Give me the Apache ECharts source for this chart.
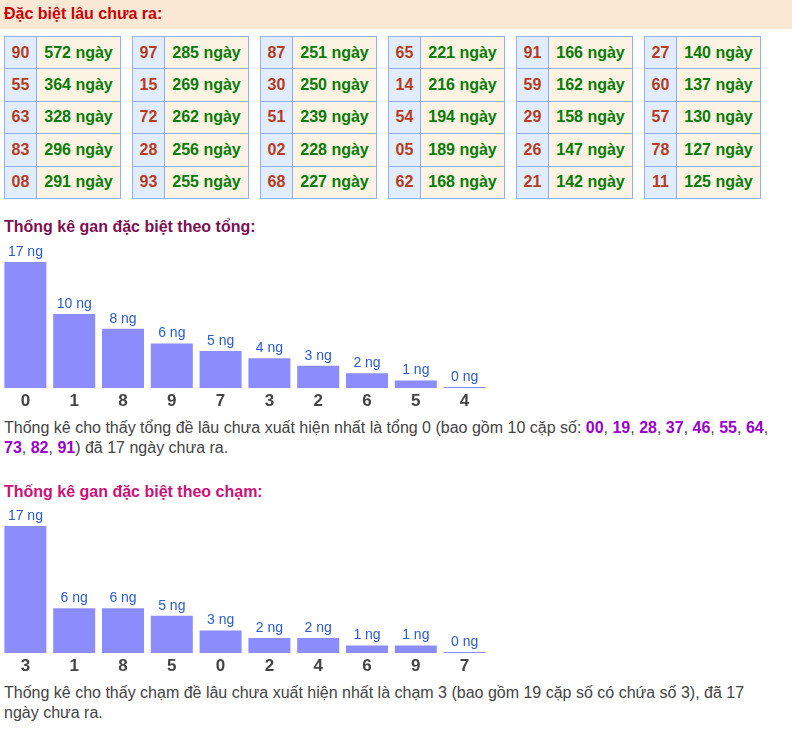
<!DOCTYPE html>
<html><head><meta charset="utf-8">
<script src="https://cdn.jsdelivr.net/npm/echarts@6/dist/echarts.min.js"></script>
<style>
body{margin:0;background:#fff;font-family:"Liberation Sans",Arial,sans-serif;width:792px;height:729px;overflow:hidden;position:relative}
.hdr{position:absolute;left:0;top:0;width:792px;height:29px;background:#fbe9d6;}
.hdr span{position:absolute;left:4px;top:5px;font-weight:bold;font-size:16px;color:#cc0000}
table.g{position:absolute;top:36px;border-collapse:collapse;table-layout:fixed}
table.g td{border:1px solid #8fb0f3;height:31.4px;font-weight:bold;font-size:16px;text-align:center;padding:0}
td.n{background:#e1edfd;color:#b83c1c;width:31px}
td.d{background:#fdf3e2;color:#077c07;width:83px}
.ttl{position:absolute;left:4px;font-weight:bold;font-size:16px;line-height:20px}
.par{position:absolute;left:4px;width:786px;font-size:16px;line-height:19.5px;color:#444}
.par b{color:#9900cc}
.ch{position:absolute;left:0;width:500px;height:175px}
</style></head><body>
<div class="hdr"><span>Đặc biệt lâu chưa ra:</span></div>
<div id="tables"></div>
<div class="ttl" style="top:217px;color:#7d0f50">Thống kê gan đặc biệt theo tổng:</div>
<div id="c1" class="ch" style="top:240px"></div>
<div class="par" id="p1" style="top:418px"></div>
<div class="ttl" style="top:482px;color:#cc1177">Thống kê gan đặc biệt theo chạm:</div>
<div id="c2" class="ch" style="top:504px"></div>
<div class="par" id="p2" style="top:683px;width:760px"></div>
<script>
// Long-absent numbers (table columns, top to bottom)
const ganNumbers = [
  ["90","55","63","83","08"],
  ["97","15","72","28","93"],
  ["87","30","51","02","68"],
  ["65","14","54","05","62"],
  ["91","59","29","26","21"],
  ["27","60","57","78","11"]
];
const ganDays = [
  [572,364,328,296,291],
  [285,269,262,256,255],
  [251,250,239,228,227],
  [221,216,194,189,168],
  [166,162,158,147,142],
  [140,137,130,127,125]
];
// Chart 1: by sum (tổng)
const tongCategories = ["0","1","8","9","7","3","2","6","5","4"];
const tongValues = [17,10,8,6,5,4,3,2,1,0];
// Chart 2: by digit (chạm)
const chamCategories = ["3","1","8","5","0","2","4","6","9","7"];
const chamValues = [17,6,6,5,3,2,2,1,1,0];
const tongPairs = ["00","19","28","37","46","55","64","73","82","91"];

// tables
const tw = document.getElementById('tables');
ganNumbers.forEach((col, i) => {
  const t = document.createElement('table');
  t.className = 'g';
  t.style.left = (4 + i * 128) + 'px';
  let h = '';
  col.forEach((n, r) => {
    h += '<tr><td class="n">' + n + '</td><td class="d">' + ganDays[i][r] + ' ngày</td></tr>';
  });
  t.innerHTML = h;
  tw.appendChild(t);
});

document.getElementById('p1').innerHTML =
  'Thống kê cho thấy tổng đề lâu chưa xuất hiện nhất là tổng ' + tongCategories[0] +
  ' (bao gồm ' + tongPairs.length + ' cặp số: ' +
  tongPairs.map(p => '<b>' + p + '</b>').join(', ') +
  ') đã ' + tongValues[0] + ' ngày chưa ra.';
document.getElementById('p2').innerHTML =
  'Thống kê cho thấy chạm đề lâu chưa xuất hiện nhất là chạm ' + chamCategories[0] +
  ' (bao gồm 19 cặp số có chứa số ' + chamCategories[0] + '), đã ' + chamValues[0] + ' ngày chưa ra.';

function makeChart(id, cats, vals, h) {
  const c = echarts.init(document.getElementById(id), null, {renderer: 'canvas'});
  c.setOption({
    animation: false,
    grid: {left: 1, top: 22, width: 488, height: h},
    xAxis: {
      type: 'category', data: cats,
      axisLine: {show: false}, axisTick: {show: false},
      axisLabel: {color: '#444', fontWeight: 'bold', fontSize: 17, margin: 5,
        fontFamily: 'Liberation Sans'}
    },
    yAxis: {type: 'value', min: 0, max: 17, show: false, splitLine: {show: false}},
    series: [{
      type: 'bar', data: vals, barWidth: 42, barMinHeight: 1,
      itemStyle: {color: '#8c8cfd'},
      label: {show: true, position: 'top', distance: 3, color: '#2a5bd0', fontSize: 14,
        fontFamily: 'Liberation Sans', formatter: p => p.value + ' ng'}
    }]
  });
}
makeChart('c1', tongCategories, tongValues, 126);
makeChart('c2', chamCategories, chamValues, 127);
</script>
</body></html>
